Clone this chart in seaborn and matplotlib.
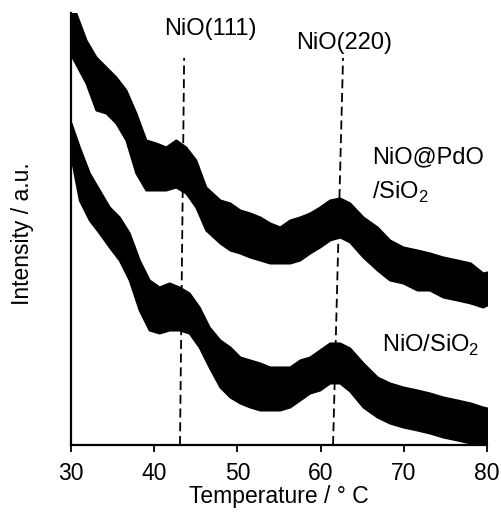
import matplotlib
matplotlib.use("Agg")
import matplotlib.pyplot as plt
import seaborn as sns
import pandas as pd

# ---- data (intensity in a.u., band = noise envelope) ----
t_pdo = [30, 31.8, 33, 34.2, 35.4, 36.6, 37.8, 39, 40.2, 41.4, 42.6, 43.8, 45, 46.2,
         47.9, 49.1, 50.3, 51.5, 52.7, 53.9, 55.1, 56.3, 57.5, 58.7, 59.9, 61.1, 62.3,
         63.5, 65.1, 66.8, 68.3, 69.9, 71.6, 73.1, 74.7, 76.4, 78, 79.5, 80]
hi_pdo = [445, 405, 388, 378, 368, 355, 332, 305, 302, 298, 305, 298, 285, 258,
          245, 242, 235, 232, 228, 222, 218, 225, 228, 232, 238, 245, 247,
          242, 228, 218, 205, 198, 195, 192, 188, 185, 182, 172, 173]
lo_pdo = [390, 362, 335, 332, 322, 305, 272, 255, 255, 255, 258, 252, 238, 215,
          202, 195, 192, 188, 185, 182, 182, 182, 185, 192, 198, 205, 208,
          203, 188, 175, 165, 162, 155, 155, 148, 145, 142, 138, 140]

t_nio = [30, 31, 32.2, 33.4, 34.6, 35.8, 37, 38.2, 39.4, 40.6, 41.8, 43, 44.2, 45.4,
         46.6, 47.9, 49.1, 50.3, 51.5, 52.7, 53.9, 55.1, 56.3, 57.5, 58.7, 59.9, 61.1,
         62.3, 63.5, 65.1, 66.8, 68.3, 69.9, 71.6, 73.1, 74.7, 76.4, 78, 79.5, 80]
hi_nio = [322, 298, 272, 255, 238, 228, 212, 185, 165, 158, 162, 158, 152, 138,
          118, 105, 98, 88, 85, 82, 78, 78, 78, 85, 88, 95, 102,
          102, 97, 82, 68, 62, 58, 55, 52, 48, 45, 42, 38, 37]
lo_nio = [288, 245, 225, 212, 198, 185, 165, 135, 115, 112, 115, 115, 112, 98,
          78, 58, 48, 42, 38, 35, 35, 35, 38, 45, 52, 55, 62,
          62, 54, 38, 28, 22, 18, 15, 12, 8, 5, 2, 0, 0]

peak_names = ["NiO(111)", "NiO(220)"]
peak_bottom = [43.1, 61.5]
peak_top = [43.6, 62.7]
peak_line_top = 387

xticks = [30, 40, 50, 60, 70, 80]

# ---- build long-form table ----
rows = []
for name, t, hi, lo in [("NiO@PdO/SiO2", t_pdo, hi_pdo, lo_pdo),
                        ("NiO/SiO2", t_nio, hi_nio, lo_nio)]:
    for ti, h, l in zip(t, hi, lo):
        rows.append({"sample": name, "T": ti, "I": h})
        rows.append({"sample": name, "T": ti, "I": l})
df = pd.DataFrame(rows)

sns.set_theme(style="ticks")
plt.rcParams["font.family"] = ["Liberation Sans", "DejaVu Sans"]
plt.rcParams["mathtext.fontset"] = "custom"
plt.rcParams["mathtext.rm"] = "Liberation Sans"
plt.rcParams["text.color"] = "black"
plt.rcParams["axes.labelcolor"] = "black"
plt.rcParams["xtick.color"] = "black"

fig = plt.figure(figsize=(5.01, 5.13), dpi=100)
ax = fig.add_axes([0.1417, 0.1326, 0.8303, 0.8421])

sns.lineplot(data=df, x="T", y="I", hue="sample",
             palette={"NiO@PdO/SiO2": "black", "NiO/SiO2": "black"},
             estimator="mean", errorbar=("pi", 100), legend=False,
             linewidth=1.0, ax=ax,
             err_kws={"alpha": 1.0, "facecolor": "black", "edgecolor": "black",
                      "linewidth": 1.5})

for b, t in zip(peak_bottom, peak_top):
    ax.plot([b, t], [0, peak_line_top], color="black", lw=1.3,
            ls=(0, (5, 2.6)), zorder=1)

fs_ann = 17
fs = 16.5
ax.text(46.7, 416, peak_names[0], ha="center", va="center", fontsize=fs_ann)
ax.text(62.8, 402, peak_names[1], ha="center", va="center", fontsize=fs_ann)
ax.text(66.2, 288, "NiO@PdO", ha="left", va="center", fontsize=fs_ann)
ax.text(66.2, 253, "/SiO$_2$", ha="left", va="center", fontsize=fs_ann)
ax.text(67.4, 100, "NiO/SiO$_2$", ha="left", va="center", fontsize=fs_ann)

ax.set_xlim(30, 80)
ax.set_ylim(0, 432)
ax.set_xticks(xticks)
ax.set_xticklabels([str(x) for x in xticks], fontsize=fs)
ax.set_yticks([])
ax.set_xlabel("Temperature / ° C", fontsize=fs, labelpad=0)
ax.set_ylabel("Intensity / a.u.", fontsize=fs)
ax.yaxis.set_label_coords(-0.09, 0.49)
ax.tick_params(axis="x", direction="out", length=5, width=1.3, pad=7, colors="black")
sns.despine(ax=ax)
for s in ["left", "bottom"]:
    ax.spines[s].set_linewidth(1.6)
    ax.spines[s].set_color("black")

fig.savefig("out.png", dpi=100)
